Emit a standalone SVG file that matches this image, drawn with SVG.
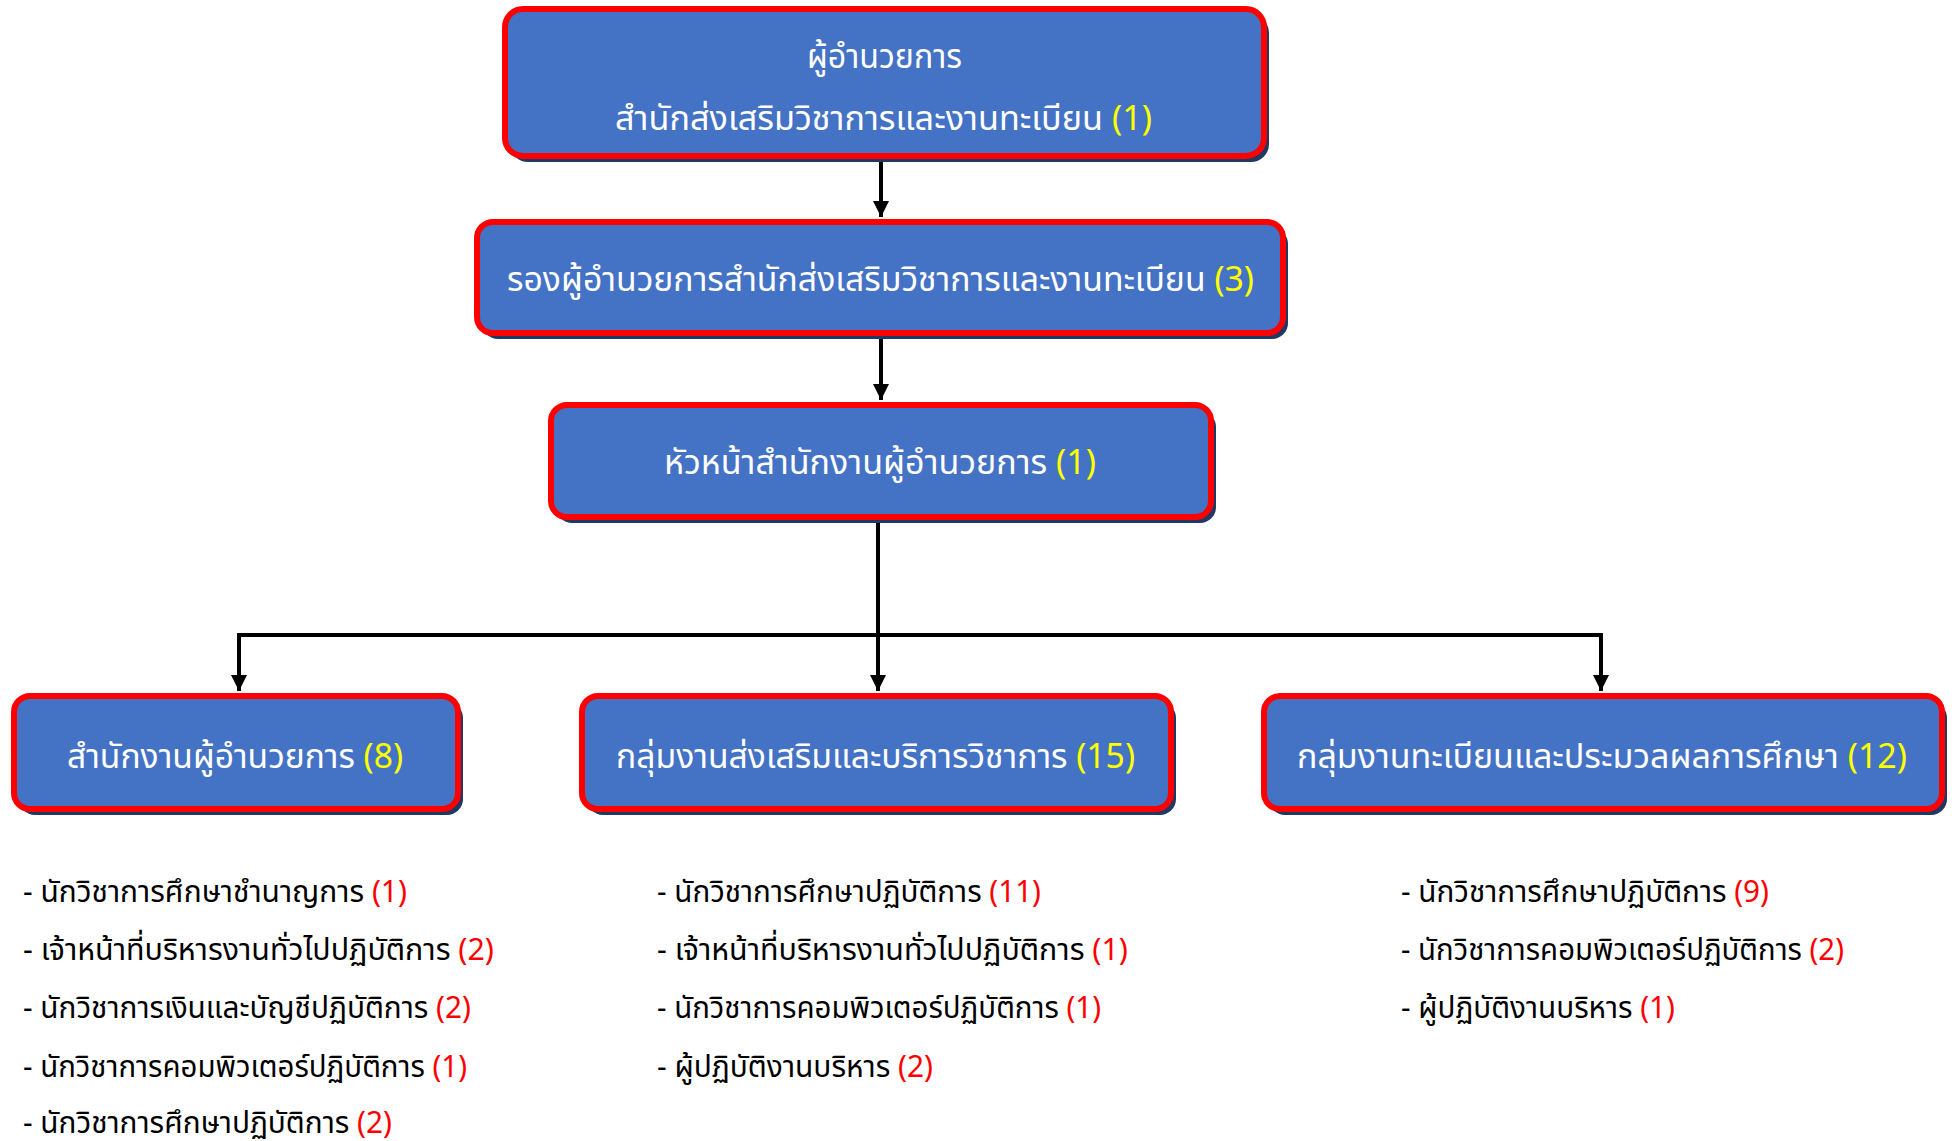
<svg xmlns="http://www.w3.org/2000/svg" width="1952" height="1141" viewBox="0 0 1952 1141">
<style>
.shadow{fill:#203864}
.box{fill:#4472C4;stroke:#FF0000;stroke-width:6}
.bt{font-family:"Noto Sans Thai","Noto Sans","DejaVu Sans",sans-serif;font-size:34px;fill:#FFFFFF}
.lt{font-family:"Noto Sans Thai","Noto Sans","DejaVu Sans",sans-serif;font-size:30px;fill:#000000}
.y{fill:#FFFF00}
.r{fill:#FF0000}
.conn{fill:none;stroke:#000000;stroke-width:4}
</style>
<defs>
<marker id="ah" viewBox="0 0 10 10" refX="10" refY="5" markerWidth="4" markerHeight="4" markerUnits="strokeWidth" orient="auto">
<path d="M0,0 L10,5 L0,10 Z" fill="#000000"/>
</marker>
</defs>
<rect width="1952" height="1141" fill="#FFFFFF"/>
<g id="connectors">
<path class="conn" d="M881,159 L881,217" marker-end="url(#ah)"/>
<path class="conn" d="M881,336 L881,400" marker-end="url(#ah)"/>
<path class="conn" d="M878,520 L878,691" marker-end="url(#ah)"/>
<path class="conn" d="M239,635 L1601,635"/>
<path class="conn" d="M239,633 L239,691" marker-end="url(#ah)"/>
<path class="conn" d="M1601,633 L1601,691" marker-end="url(#ah)"/>
</g>
<g id="node-director">
<rect class="shadow" x="510" y="15" width="759" height="147" rx="18"/>
<rect class="box" x="505" y="9" width="759" height="147" rx="18"/>
<text class="bt" x="807" y="68" textLength="155" lengthAdjust="spacingAndGlyphs">ผู้อำนวยการ</text>
<text class="bt" x="615" y="130" textLength="537" lengthAdjust="spacingAndGlyphs">สำนักส่งเสริมวิชาการและงานทะเบียน <tspan class="y">(1)</tspan></text>
</g>
<g id="node-deputy">
<rect class="shadow" x="482" y="228" width="806" height="111" rx="16"/>
<rect class="box" x="477" y="222" width="806" height="111" rx="16"/>
<text class="bt" x="507" y="291" textLength="747" lengthAdjust="spacingAndGlyphs">รองผู้อำนวยการสำนักส่งเสริมวิชาการและงานทะเบียน <tspan class="y">(3)</tspan></text>
</g>
<g id="node-head">
<rect class="shadow" x="556" y="411" width="660" height="112" rx="16"/>
<rect class="box" x="551" y="405" width="660" height="112" rx="16"/>
<text class="bt" x="664" y="474" textLength="432" lengthAdjust="spacingAndGlyphs">หัวหน้าสำนักงานผู้อำนวยการ <tspan class="y">(1)</tspan></text>
</g>
<g id="node-office">
<rect class="shadow" x="19" y="702" width="444" height="113" rx="16"/>
<rect class="box" x="14" y="696" width="444" height="113" rx="16"/>
<text class="bt" x="67" y="768" textLength="336" lengthAdjust="spacingAndGlyphs">สำนักงานผู้อำนวยการ <tspan class="y">(8)</tspan></text>
</g>
<g id="node-academic">
<rect class="shadow" x="587" y="702" width="589" height="113" rx="16"/>
<rect class="box" x="582" y="696" width="589" height="113" rx="16"/>
<text class="bt" x="616" y="768" textLength="519" lengthAdjust="spacingAndGlyphs">กลุ่มงานส่งเสริมและบริการวิชาการ <tspan class="y">(15)</tspan></text>
</g>
<g id="node-registrar">
<rect class="shadow" x="1269" y="702" width="678" height="113" rx="16"/>
<rect class="box" x="1264" y="696" width="678" height="113" rx="16"/>
<text class="bt" x="1297" y="768" textLength="610" lengthAdjust="spacingAndGlyphs">กลุ่มงานทะเบียนและประมวลผลการศึกษา <tspan class="y">(12)</tspan></text>
</g>
<g id="list-office">
<text class="lt" x="23" y="902" textLength="384" lengthAdjust="spacingAndGlyphs">-  นักวิชาการศึกษาชำนาญการ <tspan class="r">(1)</tspan></text>
<text class="lt" x="23" y="960" textLength="471" lengthAdjust="spacingAndGlyphs">-  เจ้าหน้าที่บริหารงานทั่วไปปฏิบัติการ <tspan class="r">(2)</tspan></text>
<text class="lt" x="23" y="1018" textLength="448" lengthAdjust="spacingAndGlyphs">-  นักวิชาการเงินและบัญชีปฏิบัติการ <tspan class="r">(2)</tspan></text>
<text class="lt" x="23" y="1077" textLength="444" lengthAdjust="spacingAndGlyphs">-  นักวิชาการคอมพิวเตอร์ปฏิบัติการ <tspan class="r">(1)</tspan></text>
<text class="lt" x="23" y="1133" textLength="369" lengthAdjust="spacingAndGlyphs">-  นักวิชาการศึกษาปฏิบัติการ <tspan class="r">(2)</tspan></text>
</g>
<g id="list-academic">
<text class="lt" x="657" y="902" textLength="384" lengthAdjust="spacingAndGlyphs">-  นักวิชาการศึกษาปฏิบัติการ <tspan class="r">(11)</tspan></text>
<text class="lt" x="657" y="960" textLength="471" lengthAdjust="spacingAndGlyphs">-  เจ้าหน้าที่บริหารงานทั่วไปปฏิบัติการ <tspan class="r">(1)</tspan></text>
<text class="lt" x="657" y="1018" textLength="444" lengthAdjust="spacingAndGlyphs">-  นักวิชาการคอมพิวเตอร์ปฏิบัติการ <tspan class="r">(1)</tspan></text>
<text class="lt" x="657" y="1077" textLength="276" lengthAdjust="spacingAndGlyphs">-  ผู้ปฏิบัติงานบริหาร <tspan class="r">(2)</tspan></text>
</g>
<g id="list-registrar">
<text class="lt" x="1401" y="902" textLength="368" lengthAdjust="spacingAndGlyphs">-  นักวิชาการศึกษาปฏิบัติการ <tspan class="r">(9)</tspan></text>
<text class="lt" x="1401" y="960" textLength="443" lengthAdjust="spacingAndGlyphs">-  นักวิชาการคอมพิวเตอร์ปฏิบัติการ <tspan class="r">(2)</tspan></text>
<text class="lt" x="1401" y="1018" textLength="274" lengthAdjust="spacingAndGlyphs">-  ผู้ปฏิบัติงานบริหาร <tspan class="r">(1)</tspan></text>
</g>
</svg>
